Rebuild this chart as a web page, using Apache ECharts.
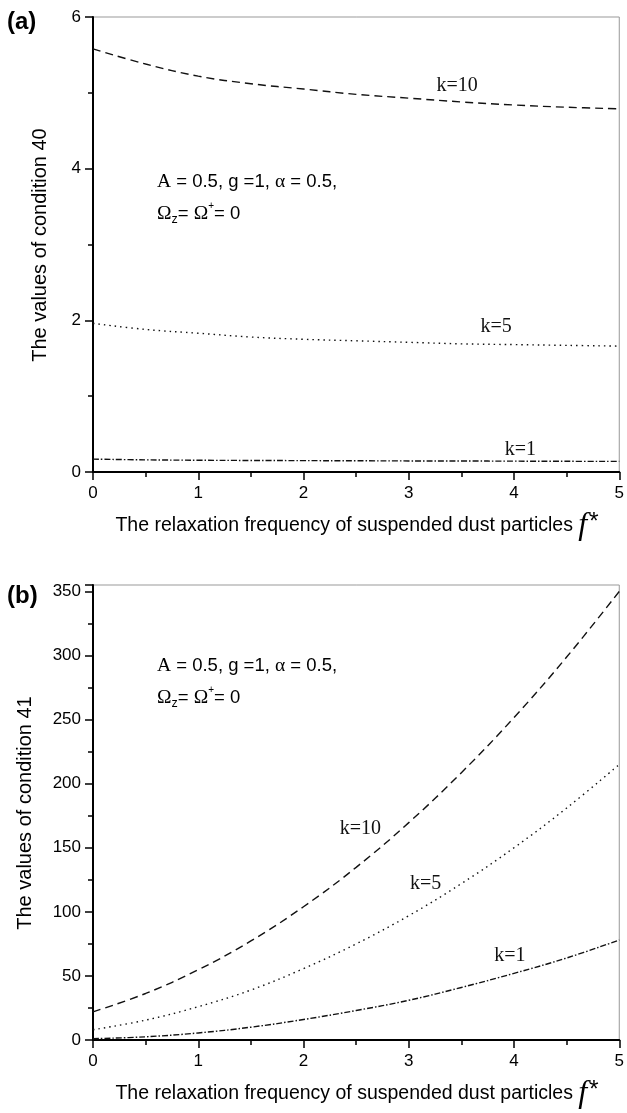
<!DOCTYPE html>
<html><head><meta charset="utf-8">
<script src="https://cdn.jsdelivr.net/npm/echarts@6/dist/echarts.min.js"></script>
<style>html,body{margin:0;padding:0;background:#fff}#c{width:627px;height:1113px}</style>
</head><body><div id="c"></div>
<script>
// relaxation frequency f*
const fValues = [0, 0.5, 1, 1.5, 2, 2.5, 3, 3.5, 4, 4.5, 5];
// panel (a): values of condition 40
const cond40_k10 = [5.58, 5.38, 5.22, 5.12, 5.05, 4.98, 4.93, 4.88, 4.84, 4.81, 4.79];
const cond40_k5  = [1.96, 1.88, 1.83, 1.78, 1.75, 1.73, 1.71, 1.69, 1.68, 1.67, 1.66];
const cond40_k1  = [0.17, 0.16, 0.155, 0.152, 0.15, 0.148, 0.146, 0.145, 0.143, 0.141, 0.14];
// panel (b): values of condition 41
const cond41_k10 = [22, 36.3, 54.8, 77.3, 104, 134.7, 169.6, 208.6, 251.6, 298.8, 350];
const cond41_k5  = [8, 15.5, 26, 39, 55.7, 75, 97, 122, 150, 181, 215];
const cond41_k1  = [1, 2.5, 5.5, 10, 16, 23, 31, 41, 52, 64, 78];
const seriesNames = ['k=10', 'k=5', 'k=1'];
const xTickLabels = ['0', '1', '2', '3', '4', '5'];
const yTicksA = [0, 2, 4, 6];
const yTicksB = [0, 50, 100, 150, 200, 250, 300, 350];

const SANS = '"Liberation Sans", Arial, sans-serif';
const SERIF = '"Liberation Serif", "Times New Roman", serif';
const zip = (ys) => fValues.map((x, i) => [x, ys[i]]);

const chart = echarts.init(document.getElementById('c'), null, {renderer: 'canvas'});

function xAxisCfg(gi) {
  return {
    gridIndex: gi, type: 'value', min: 0, max: 5, interval: 1,
    axisLine: {show: true, onZero: false, lineStyle: {color: '#000', width: 2}},
    axisTick: {show: true, inside: false, length: 8, lineStyle: {color: '#000', width: 1.5}},
    minorTick: {show: true, splitNumber: 2, length: 5, lineStyle: {color: '#000', width: 1.5}},
    axisLabel: {color: '#000', fontSize: 17, fontFamily: SANS, margin: 13,
      formatter: v => xTickLabels.includes(String(v)) ? String(v) : ''},
    splitLine: {show: false}
  };
}
function yAxisCfg(gi, max, interval, ticks) {
  return {
    gridIndex: gi, type: 'value', min: 0, max: max, interval: interval,
    axisLine: {show: true, onZero: false, lineStyle: {color: '#000', width: 2}},
    axisTick: {show: true, inside: false, length: 8, lineStyle: {color: '#000', width: 1.5}},
    minorTick: {show: true, splitNumber: 2, length: 5, lineStyle: {color: '#000', width: 1.5}},
    axisLabel: {color: '#000', fontSize: 17, fontFamily: SANS, margin: 12,
      formatter: v => ticks.includes(v) ? String(v) : ''},
    splitLine: {show: false}
  };
}
const styles = [
  {type: [8, 5]},
  {type: [1.5, 4]},
  {type: [6, 2, 1.5, 2]}
];
function mk(name, data, gi, si) {
  return {
    name: name, type: 'line', xAxisIndex: gi, yAxisIndex: gi, data: zip(data),
    smooth: 0.4, showSymbol: false, silent: true,
    lineStyle: Object.assign({color: '#111', width: 1.4}, styles[si])
  };
}

const option = {
  backgroundColor: '#fff',
  animation: false,
  grid: [
    {left: 93, top: 17, width: 529, height: 455, show: true, borderColor: '#999', borderWidth: 1, backgroundColor: 'transparent'},
    {left: 93, top: 585, width: 529, height: 455, show: true, borderColor: '#999', borderWidth: 1, backgroundColor: 'transparent'}
  ],
  xAxis: [xAxisCfg(0), xAxisCfg(1)],
  yAxis: [yAxisCfg(0, 6, 2, yTicksA), yAxisCfg(1, 355, 50, yTicksB)],
  series: [
    mk(seriesNames[0], cond40_k10, 0, 0),
    mk(seriesNames[1], cond40_k5, 0, 1),
    mk(seriesNames[2], cond40_k1, 0, 2),
    mk(seriesNames[0], cond41_k10, 1, 0),
    mk(seriesNames[1], cond41_k5, 1, 1),
    mk(seriesNames[2], cond41_k1, 1, 2)
  ]
};
chart.setOption(option);

// annotations
const kLabelPos = [
  {g: 0, name: seriesNames[0], at: [3.46, 5.09]},
  {g: 0, name: seriesNames[1], at: [3.83, 1.92]},
  {g: 0, name: seriesNames[2], at: [4.06, 0.30]},
  {g: 1, name: seriesNames[0], at: [2.54, 165]},
  {g: 1, name: seriesNames[1], at: [3.16, 122]},
  {g: 1, name: seriesNames[2], at: [3.96, 66]}
];
const graphics = [];
kLabelPos.forEach(k => {
  const p = chart.convertToPixel({gridIndex: k.g}, k.at);
  graphics.push({type: 'text', x: p[0], y: p[1], silent: true,
    style: {text: k.name, fill: '#111', font: '20px ' + SERIF, align: 'center', verticalAlign: 'middle', textAlign: 'center', textVerticalAlign: 'middle'}});
});
const annRich = {
  s: {fontFamily: SERIF, fontSize: 19.5, fill: '#000'},
  n: {fontFamily: SANS, fontSize: 18.5, fill: '#000'},
  sub: {fontFamily: SANS, fontSize: 12.5, fill: '#000', verticalAlign: 'bottom', padding: [12, 0, 0, 0]},
  sup: {fontFamily: SANS, fontSize: 10, fill: '#000', verticalAlign: 'top', padding: [0, 0, 10, 0]}
};
function annotation(x, y1, y2) {
  graphics.push({type: 'text', x: x, y: y1, silent: true,
    style: {text: '{s|A}{n| = 0.5, g =1, }{s|α}{n| = 0.5,}', rich: annRich, align: 'left', verticalAlign: 'middle', textAlign: 'left', textVerticalAlign: 'middle'}});
  graphics.push({type: 'text', x: x, y: y2, silent: true,
    style: {text: '{s|Ω}{sub|z}{n|= }{s|Ω}{sup|+}{n|= 0}', rich: annRich, align: 'left', verticalAlign: 'middle', textAlign: 'left', textVerticalAlign: 'middle'}});
}
annotation(157, 182, 214);
annotation(157, 666, 698);

function xTitle(y) {
  graphics.push({type: 'text', x: 357, y: y, silent: true,
    style: {text: '{a|The relaxation frequency of suspended dust particles }{f|f}{s|*}',
      rich: {
        a: {fontFamily: SANS, fontSize: 19.5, fill: '#000'},
        f: {fontFamily: SERIF, fontStyle: 'italic', fontSize: 32, fill: '#000'},
        s: {fontFamily: SANS, fontSize: 24, fill: '#000', verticalAlign: 'top', padding: [0, 0, 8, 2]}
      }, align: 'center', verticalAlign: 'middle', textAlign: 'center', textVerticalAlign: 'middle'}});
}
xTitle(526);
xTitle(1094);

function yTitle(x, y, t) {
  graphics.push({type: 'text', x: x, y: y, rotation: Math.PI / 2, silent: true,
    style: {text: t, font: '20px ' + SANS, fill: '#000', align: 'center', verticalAlign: 'middle', textAlign: 'center', textVerticalAlign: 'middle'}});
}
yTitle(40, 245, 'The values of condition 40');
yTitle(25, 813, 'The values of condition 41');

graphics.push({type: 'text', x: 7, y: 22, silent: true,
  style: {text: '(a)', font: 'bold 24px ' + SANS, fill: '#000', align: 'left', verticalAlign: 'middle', textAlign: 'left', textVerticalAlign: 'middle'}});
graphics.push({type: 'text', x: 7, y: 596, silent: true,
  style: {text: '(b)', font: 'bold 24px ' + SANS, fill: '#000', align: 'left', verticalAlign: 'middle', textAlign: 'left', textVerticalAlign: 'middle'}});

chart.setOption({graphic: graphics});
</script>
</body></html>
